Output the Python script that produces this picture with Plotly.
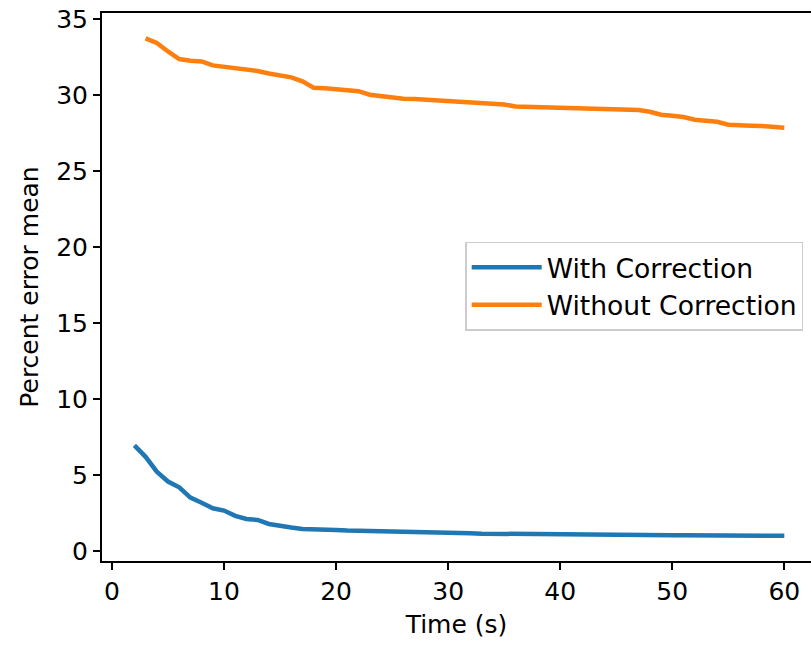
import plotly.graph_objects as go

time_with = list(range(2, 61))
with_correction = [6.95, 6.2, 5.22, 4.57, 4.19, 3.51, 3.18, 2.81, 2.66, 2.31,
                   2.11, 2.04, 1.78, 1.63, 1.54, 1.45, 1.45, 1.42, 1.38, 1.34,
                   1.33, 1.31, 1.30, 1.27, 1.24, 1.23, 1.22, 1.21, 1.20, 1.19,
                   1.17, 1.14, 1.13, 1.13, 1.12, 1.11, 1.11, 1.10, 1.10, 1.10,
                   1.10, 1.09, 1.07, 1.06, 1.05, 1.05, 1.05, 1.05, 1.04, 1.04,
                   1.04, 1.04, 1.03, 1.03, 1.02, 1.02, 1.02, 1.01, 1.00]

time_without = list(range(3, 61))
without_correction = [33.75, 33.45, 32.89, 32.39, 32.28, 32.23, 31.97, 31.88, 31.82, 31.73,
                      31.60, 31.44, 31.31, 31.18, 30.92, 30.50, 30.46, 30.40, 30.35, 30.27,
                      30.04, 29.95, 29.82, 29.78, 29.76, 29.71, 29.66, 29.64, 29.60, 29.51,
                      29.51, 29.45, 29.40, 29.27, 29.25, 29.20, 29.14, 29.14, 29.13, 29.12,
                      29.12, 29.10, 29.05, 29.03, 29.03, 28.92, 28.72, 28.66, 28.57, 28.39,
                      28.33, 28.26, 28.06, 28.00, 28.00, 27.98, 27.96, 27.87]

x_ticks = [0, 10, 20, 30, 40, 50, 60]
y_ticks = [0, 5, 10, 15, 20, 25, 30, 35]

font_family = "DejaVu Sans"
fs = 25

fig = go.Figure()
fig.add_trace(go.Scatter(x=time_with, y=with_correction, mode="lines",
                         name="With Correction",
                         line=dict(color="#1f77b4", width=4.5)))
fig.add_trace(go.Scatter(x=time_without, y=without_correction, mode="lines",
                         name="Without Correction",
                         line=dict(color="#ff7f0e", width=4.5)))

fig.update_layout(
    width=811, height=646,
    margin=dict(l=102, r=0, t=13, b=85),
    plot_bgcolor="white", paper_bgcolor="white",
    font=dict(family=font_family, size=fs, color="black"),
    showlegend=True,
    legend=dict(x=0.989, y=0.501, xanchor="right", yanchor="middle",
                bgcolor="rgba(255,255,255,0.8)", bordercolor="#cccccc", borderwidth=1.5,
                font=dict(family=font_family, size=26.6, color="black"),
                tracegroupgap=0, itemwidth=70),
)
fig.update_xaxes(
    range=[-0.89, 62.38], tickvals=x_ticks, ticktext=[str(v) for v in x_ticks],
    showgrid=False, zeroline=False,
    showline=True, linecolor="black", linewidth=2, mirror=True,
    ticks="outside", ticklen=7, tickwidth=1.6, tickcolor="black",
    title=dict(text="Time (s)", standoff=10, font=dict(size=fs)),
    tickfont=dict(size=fs),
)
fig.update_yaxes(
    range=[-0.66, 35.42], tickvals=y_ticks, ticktext=[str(v) for v in y_ticks],
    showgrid=False, zeroline=False,
    showline=True, linecolor="black", linewidth=2, mirror=False,
    ticks="outside", ticklen=7, tickwidth=1.6, tickcolor="black",
    title=dict(text="Percent error mean", standoff=10, font=dict(size=fs)),
    tickfont=dict(size=fs),
)

fig.write_html("out.html")
